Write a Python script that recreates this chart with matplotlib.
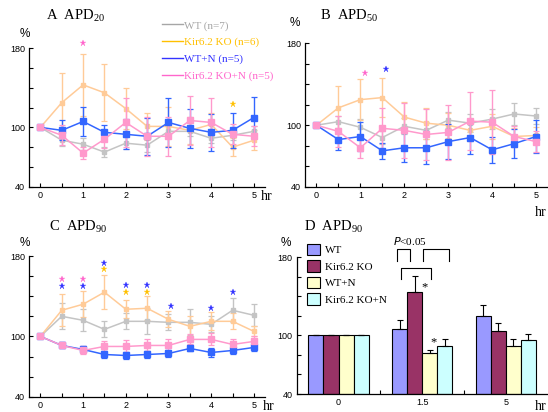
import matplotlib
matplotlib.use("Agg")
import matplotlib.pyplot as plt
from matplotlib.lines import Line2D
import numpy as np

plt.rcParams['font.family'] = ['Liberation Sans', 'DejaVu Sans']
plt.rcParams['mathtext.default'] = 'regular'

SERIF = ['Liberation Serif', 'DejaVu Serif']

# ---- time points (hr) ----
hours = [0, 0.5, 1, 1.5, 2, 2.5, 3, 3.5, 4, 4.5, 5]

# ---- APD20 ----
wt_a = [100, 87, 83, 75, 84, 82, 96, 96, 89, 92, 96]
wt_a_err = [0, 6, 6, 5, 6, 7, 6, 5, 5, 5, 5]
ko_a = [100, 125, 143, 135, 119, 101, 101, 97, 103, 80, 87]
ko_a_err = [0, 30, 31, 29, 21, 14, 20, 14, 12, 9, 10]
wtn_a = [100, 97, 106, 95, 93, 91, 105, 99, 95, 97, 110]
wtn_a_err = [0, 10, 15, 7, 15, 19, 25, 20, 19, 18, 21]
kon_a = [100, 92, 74, 88, 105, 91, 91, 107, 105, 93, 91]
kon_a_err = [0, 10, 6, 9, 25, 20, 20, 25, 25, 10, 10]

# ---- APD50 ----
wt_b = [100, 103.5, 98, 88, 99, 95, 105, 102, 106, 111, 109]
wt_b_err = [0, 6, 8, 6, 8, 8, 8, 9, 10, 11, 8]
ko_b = [100, 117, 125, 127, 108, 102, 100, 95, 99, 89, 90]
ko_b_err = [0, 21, 20, 19, 15, 15, 12, 10, 12, 8, 8]
wtn_b = [100, 86, 89, 75, 78, 78, 84, 88, 76, 82, 89]
wtn_b_err = [0, 10, 14, 8, 14, 16, 17, 16, 13, 14, 16]
kon_b = [100, 94, 78, 97, 95, 91, 93, 104, 103, 89, 84]
kon_b_err = [0, 15, 10, 20, 27, 25, 27, 28, 31, 10, 10]

# ---- APD90 ----
wt_c = [100, 120, 116, 107, 115, 115, 114, 114, 112, 126, 121]
wt_c_err = [0, 13, 11, 8, 8, 13, 8, 13, 8, 12, 11]
ko_c = [100, 126, 132, 144, 127, 128, 117, 110, 115, 115, 105]
ko_c_err = [0, 16, 13, 17, 9, 12, 8, 10, 9, 8, 5]
wtn_c = [100, 91, 87, 82, 81, 82, 83, 88, 84, 86, 89]
wtn_c_err = [0, 3, 3, 3, 3, 3, 3, 3, 4, 4, 4]
kon_c = [100, 91, 86, 90, 90, 91, 91, 97, 97, 92, 95]
kon_c_err = [0, 3, 4, 5, 6, 6, 6, 5, 6, 5, 5]

# ---- APD90 bar summary ----
bar_groups = ['0', '1.5', '5']
wt_d = [100, 107, 120]
wt_d_err = [0, 8.6, 11]
ko_d = [100, 144, 105]
ko_d_err = [0, 17, 8]
wtn_d = [100, 82, 89]
wtn_d_err = [0, 3.4, 7]
kon_d = [100, 89, 95]
kon_d_err = [0, 7, 6]

# ---- significance marks (hr, level, series) ----
stars_a = [(1, 185, 'kon'), (4.5, 124, 'ko')]
stars_b = [(1.1, 151, 'kon'), (1.58, 155, 'wtn')]
stars_c = [(0.5, 157, 'kon'), (0.5, 150, 'wtn'),
           (1, 157, 'kon'), (1, 150, 'wtn'),
           (1.5, 173, 'wtn'), (1.5, 167, 'ko'),
           (2, 151, 'wtn'), (2, 144.5, 'ko'),
           (2.5, 151, 'wtn'), (2.5, 144.5, 'ko'),
           (3.07, 130, 'wtn'), (4, 128, 'wtn'), (4.5, 144.5, 'wtn')]

labels = ['WT (n=7)', 'Kir6.2 KO (n=6)', 'WT+N (n=5)', 'Kir6.2 KO+N (n=5)']
bar_labels = ['WT', 'Kir6.2 KO', 'WT+N', 'Kir6.2 KO+N']

line_col = {'wt': '#C4C4C4', 'ko': '#FFCB98', 'wtn': '#3366FF', 'kon': '#FF99CC'}
key_col = {'wt': '#A6A6A6', 'ko': '#FFC000', 'wtn': '#3333FF', 'kon': '#FF66CC'}
star_col = {'ko': '#FFC000', 'wtn': '#3333FF', 'kon': '#FF66CC'}
bar_col = ['#9999FF', '#993366', '#FFFFCC', '#CCFFFF']

W, H = 548, 412
fig = plt.figure(figsize=(W / 100, H / 100), dpi=100)


def rect(left, top, right, bottom):
    return [left / W, 1 - bottom / H, (right - left) / W, (bottom - top) / H]


def style_axes(ax):
    for s in ('top', 'right'):
        ax.spines[s].set_visible(False)
    for s in ('left', 'bottom'):
        ax.spines[s].set_linewidth(0.9)
    ax.set_ylim(40, 180)
    ax.set_yticks(np.arange(40, 181, 20))
    ax.set_yticklabels(['40', '', '', '100', '', '', '', '180'])
    ax.tick_params(axis='both', direction='in', length=3, width=0.8,
                   labelsize=6.5, pad=3)


def line_panel(ax, series):
    style_axes(ax)
    for key, vals, errs in series:
        big = key in ('wtn', 'kon')
        ax.errorbar(hours, vals, yerr=errs, color=line_col[key],
                    ecolor=line_col[key], elinewidth=1.0, capsize=2,
                    capthick=0.9, lw=1.1, marker='s',
                    ms=5 if big else 3, mec=line_col[key],
                    mfc=line_col[key], zorder=3 if big else 2)
    ax.set_xlim(-0.26, 5.26)
    ax.set_xticks(np.arange(0, 5.01, 0.5))
    ax.set_xticklabels([str(int(h)) if h == int(h) else '' for h in np.arange(0, 5.01, 0.5)])


def put_stars(ax, stars):
    for h, lvl, key in stars:
        ax.plot(h, lvl, marker='*', ms=5, color=star_col[key],
                mec=star_col[key], mew=0.2, clip_on=False, zorder=5)


# ---- A: APD20 ----
axA = fig.add_axes(rect(29.3, 48.3, 265, 186.7))
line_panel(axA, [('wt', wt_a, wt_a_err), ('ko', ko_a, ko_a_err),
                 ('wtn', wtn_a, wtn_a_err), ('kon', kon_a, kon_a_err)])
put_stars(axA, stars_a)
handles = [Line2D([], [], color=key_col[k], lw=1.0) for k in ('wt', 'ko', 'wtn', 'kon')]
leg = fig.legend(handles, labels, loc='upper left',
                 bbox_to_anchor=(162 / W, 1 - 20.5 / H), frameon=False,
                 borderpad=0, borderaxespad=0,
                 handlelength=1.9, handletextpad=0.05, labelspacing=0.62,
                 prop={'family': SERIF, 'size': 8})
for t, k in zip(leg.get_texts(), ('wt', 'ko', 'wtn', 'kon')):
    t.set_color(key_col[k])

# ---- B: APD50 ----
axB = fig.add_axes(rect(305, 43.3, 547.5, 186.7))
line_panel(axB, [('wt', wt_b, wt_b_err), ('ko', ko_b, ko_b_err),
                 ('wtn', wtn_b, wtn_b_err), ('kon', kon_b, kon_b_err)])
put_stars(axB, stars_b)

# ---- C: APD90 ----
axC = fig.add_axes(rect(29.3, 256, 265, 396.7))
line_panel(axC, [('wt', wt_c, wt_c_err), ('ko', ko_c, ko_c_err),
                 ('wtn', wtn_c, wtn_c_err), ('kon', kon_c, kon_c_err)])
put_stars(axC, stars_c)

# ---- D: APD90 bars ----
axD = fig.add_axes(rect(296.7, 257.3, 547.7, 394))
style_axes(axD)
bw = 0.18
x = np.arange(len(bar_groups))
bar_sets = [(wt_d, wt_d_err), (ko_d, ko_d_err), (wtn_d, wtn_d_err), (kon_d, kon_d_err)]
centers = []
for i, (vals, errs) in enumerate(bar_sets):
    xc = x + (i - 1.5) * bw
    centers.append(xc)
    axD.bar(xc, np.array(vals) - 40, bottom=40, width=bw, color=bar_col[i],
            edgecolor='black', linewidth=0.8, label=bar_labels[i], zorder=2)
    axD.errorbar(xc, vals, yerr=[np.zeros(len(errs)), errs], fmt='none',
                 ecolor='black', elinewidth=0.8, capsize=2.2, capthick=0.8, zorder=3)
axD.set_xlim(-0.5, 2.5)
axD.set_xticks(x)
axD.set_xticklabels(bar_groups)
axD.set_xticks([0.5, 1.5], minor=True)
axD.tick_params(axis='x', which='major', length=0)
axD.tick_params(axis='x', which='minor', direction='in', length=3, width=0.8)
fig.legend(*axD.get_legend_handles_labels(), loc='upper left',
           bbox_to_anchor=(307 / W, 1 - 244 / H), frameon=False,
           borderpad=0, borderaxespad=0,
           handlelength=1.2, handleheight=1.2, handletextpad=0.45,
           labelspacing=0.45, prop={'family': SERIF, 'size': 8})

# significance brackets at 1.5 hr
def bracket(x0, x1, y0, y1):
    axD.plot([x0, x0, x1, x1], [y0, y1, y1, y0], color='black', lw=0.8,
             clip_on=False, zorder=4)

g = 1
bracket(centers[0][g] - 0.03, centers[1][g] - 0.05, 176, 188)
bracket(centers[1][g] + 0.1, centers[3][g] + 0.05, 176, 188)
bracket(centers[0][g] + 0.02, centers[2][g] + 0.02, 157.5, 169.5)
axD.text(centers[1][g] - 0.05, 197, '$\\mathit{P}$<0.05', ha='center', va='center',
         fontsize=8, family=SERIF, clip_on=False)
axD.text(centers[1][g] + 0.12, ko_d[g] + ko_d_err[g] - 12, '*', ha='center',
         va='center', fontsize=9, family=SERIF)
axD.text(centers[2][g] + 0.04, wtn_d[g] + wtn_d_err[g] + 8, '*', ha='center',
         va='center', fontsize=9, family=SERIF)

# ---- panel titles, units ----
title_kw = dict(family=SERIF, fontsize=10.5, va='center', ha='left')
fig.text(46 / W, 1 - 16 / H, 'A  APD$_{20}$', **title_kw)
fig.text(320 / W, 1 - 16 / H, 'B  APD$_{50}$', **title_kw)
fig.text(49 / W, 1 - 227 / H, 'C  APD$_{90}$', **title_kw)
fig.text(304 / W, 1 - 227 / H, 'D  APD$_{90}$', **title_kw)

pct_kw = dict(fontsize=8.5, va='center', ha='left')
fig.text(20 / W, 1 - 34 / H, '%', **pct_kw)
fig.text(290 / W, 1 - 23 / H, '%', **pct_kw)
fig.text(20 / W, 1 - 243 / H, '%', **pct_kw)
fig.text(281 / W, 1 - 243 / H, '%', **pct_kw)

hr_kw = dict(family=SERIF, fontsize=10, va='center', ha='left')
fig.text(261 / W, 1 - 197 / H, 'hr', **hr_kw)
fig.text(535 / W, 1 - 213 / H, 'hr', **hr_kw)
fig.text(263 / W, 1 - 407 / H, 'hr', **hr_kw)
fig.text(535 / W, 1 - 407 / H, 'hr', **hr_kw)

fig.savefig('out.png', dpi=100)
